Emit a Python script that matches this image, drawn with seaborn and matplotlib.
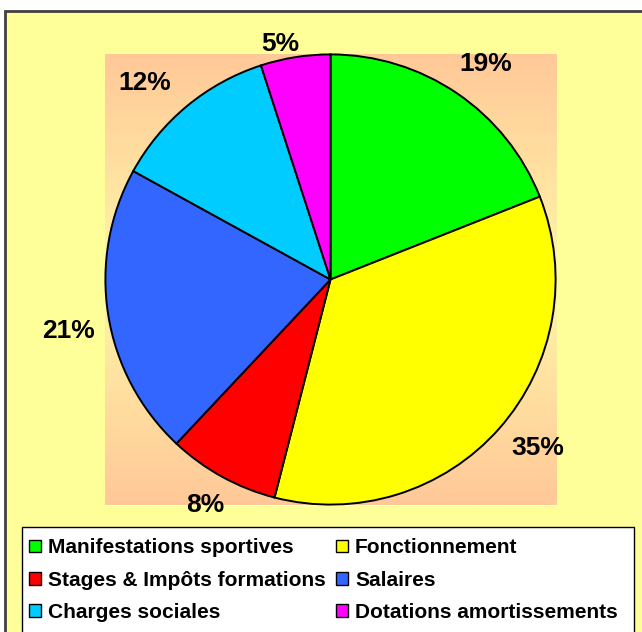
import numpy as np
import matplotlib
matplotlib.use("Agg")
import matplotlib.pyplot as plt
import matplotlib.patches as mpatches
from matplotlib.colors import LinearSegmentedColormap
import seaborn as sns

categories = ["Manifestations sportives", "Fonctionnement", "Stages & Impôts formations",
              "Salaires", "Charges sociales", "Dotations amortissements"]
values = [19, 35, 8, 21, 12, 5]
pct_labels = ["19%", "35%", "8%", "21%", "12%", "5%"]
colors = ["#00FF00", "#FFFF00", "#FF0000", "#3366FF", "#00CCFF", "#FF00FF"]

# label placement style (radial distance as fraction of radius, angular nudge in degrees)
label_dist = [1.18, 1.185, 1.145, 1.185, 1.20, 1.07]
label_nudge = [-1.7, 2.3, -0.3, 2.1, 3.8, 3.1]

sns.set_theme(style="white")
plt.rcParams['font.family'] = ['Liberation Sans', 'DejaVu Sans']
palette = sns.color_palette(colors)

W, H = 642, 632
fig = plt.figure(figsize=(W / 100, H / 100), dpi=100)
fig.patch.set_facecolor("white")

# chart frame as a background axes
bg = fig.add_axes([0, 0, 1, 1], zorder=-10)
bg.set_xlim(0, W)
bg.set_ylim(H, 0)
bg.axis("off")
bg.add_patch(mpatches.Rectangle((5, 11), W + 20, H + 20, facecolor="#FFFF99",
                                edgecolor="#404040", linewidth=2))
# legend box
bg.add_patch(mpatches.Rectangle((22, 527), 612, 130, facecolor="white",
                                edgecolor="black", linewidth=1))

# plot area with vertical gradient
ax = fig.add_axes([104.5 / W, 1 - 505.5 / H, 452 / W, 452 / H], zorder=1)
cmap = LinearSegmentedColormap.from_list("g", ["#FFC898", "#FFF8A8", "#FFC898"])
grad = np.linspace(0, 1, 256).reshape(-1, 1)
ax.imshow(grad, cmap=cmap, extent=(-1, 1, -1, 1), aspect="auto", zorder=0)

R = 0.996
wedges, texts = ax.pie(values, colors=palette, startangle=90, counterclock=False,
                       radius=R, labels=pct_labels, labeldistance=1.18,
                       wedgeprops=dict(edgecolor="black", linewidth=1.4),
                       textprops=dict(fontsize=19, fontweight="bold", color="black"),
                       frame=True)
for w, t, d, n in zip(wedges, texts, label_dist, label_nudge):
    mid = np.deg2rad((w.theta1 + w.theta2) / 2 + n)
    t.set_position((d * R * np.cos(mid), d * R * np.sin(mid)))
    t.set_ha("center")
    t.set_va("center")
    t.set_clip_on(False)
ax.set_xlim(-1, 1)
ax.set_ylim(-1, 1)
ax.set_xticks([])
ax.set_yticks([])
for s in ax.spines.values():
    s.set_visible(False)

# legend (column-major order for row-wise display)
order = [0, 2, 4, 1, 3, 5]
handles = [mpatches.Patch(facecolor=palette[i], edgecolor="black", linewidth=1) for i in order]
labels = [categories[i] for i in order]
leg = fig.legend(handles, labels, loc="upper left",
                 bbox_to_anchor=(20 / W, 1 - 529 / H),
                 ncol=2, prop=dict(weight="bold", size=15),
                 frameon=False, handlelength=0.55, handleheight=0.55,
                 handletextpad=0.35, labelspacing=0.64, borderpad=0.45, columnspacing=0.5,
                 borderaxespad=0, labelcolor="black")
leg.set_zorder(5)

fig.savefig("out.png", dpi=100, facecolor=fig.get_facecolor())
